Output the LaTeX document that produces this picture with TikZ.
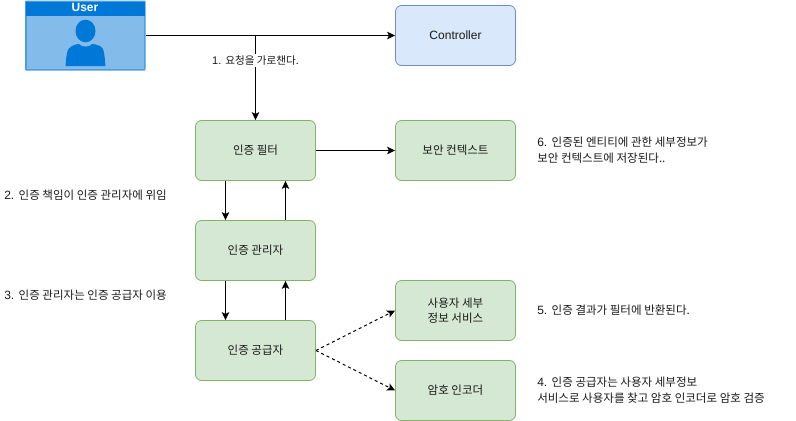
\documentclass[tikz,border=0pt]{standalone}
\usepackage{fontspec}
\setmainfont{Liberation Sans}
\newfontfamily\kr{Noto Sans CJK KR}[Scale=0.96]
\usetikzlibrary{arrows.meta}
\definecolor{gfill}{HTML}{D5E8D4}
\definecolor{gline}{HTML}{82B366}
\definecolor{bfill}{HTML}{DAE8FC}
\definecolor{bline}{HTML}{6C8EBF}
\definecolor{ublue}{HTML}{0078D7}
\definecolor{ulight}{HTML}{83BBEB}
\definecolor{uedge}{HTML}{4A9FE3}
\tikzset{
  x=0.75pt,y=-0.75pt,
  every node/.style={font=\fontsize{9pt}{11.6pt}\selectfont,text=black!90,inner sep=0pt,align=center},
  greenbox/.style={draw=gline,fill=gfill,rounded corners=6pt*0.75,minimum width=90pt,minimum height=45pt,line width=0.6pt},
  bluebox/.style={draw=bline,fill=bfill,rounded corners=6pt*0.75,minimum width=90pt,minimum height=45pt,line width=0.6pt},
  conn/.style={draw=black,line width=0.75pt,-{Stealth[length=8pt*0.75,width=7.5pt*0.75,inset=1.8pt*0.75]}},
  dashconn/.style={conn,dash pattern=on 2.25pt off 2.25pt},
  note/.style={anchor=west,align=left},
  smallnote/.style={font=\fontsize{8.25pt}{11pt}\selectfont},
}
\begin{document}
\begin{tikzpicture}
\useasboundingbox (0,0) rectangle (796,421);
% User
\fill[uedge,rounded corners=0.7pt] (25,0.5) rectangle (145.5,70.5);
\fill[ulight] (26.5,16) rectangle (144,68.5);
\fill[ublue] (26,1.5) rectangle (144.5,16);
\node[font=\fontsize{9pt}{11pt}\selectfont\bfseries,text=white] (usertitle) at (85,7.5) {User};
\fill[ublue] (85.5,31) circle[x radius=10,y radius=11.3];
\fill[ublue] (65.5,66) .. controls (66.5,56) and (66.5,48) .. (72,46) .. controls (75,44.5) and (77,44) .. (79,44)
  .. controls (81,47.5) and (90,47.5) .. (92,44) .. controls (94,44) and (97,44.5) .. (100,46)
  .. controls (104.5,48) and (104.5,56) .. (105.5,66) -- cycle;
\coordinate (user) at (145.5,35.5);
\node[bluebox] (controller) at (455.5,35.5) {Controller};
\node[greenbox] (filter) at (255.5,150.5) {\kr 인증 필터};
\node[greenbox] (context) at (455.5,150.5) {\kr 보안 컨텍스트};
\node[greenbox] (manager) at (255.5,250.5) {\kr 인증 관리자};
\node[greenbox] (provider) at (255.5,350.5) {\kr 인증 공급자};
\node[greenbox] (service) at (455.5,310.5) {\kr 사용자 세부\\\kr 정보 서비스};
\node[greenbox] (encoder) at (455.5,390.5) {\kr 암호 인코더};
\coordinate (branch) at (255.5,35.5);
\draw[conn] (user) -- (controller.west);
\draw[conn] (branch) -- (filter.north);
\node[smallnote,fill=white,inner ysep=1pt,inner xsep=1pt] (lab1) at (255.5,60.5) {1. {\kr 요청을 가로챈다.}};
\draw[conn] (filter.east) -- (context.west);
\draw[conn] ([xshift=-22.5pt]filter.south) -- ([xshift=-22.5pt]manager.north);
\draw[conn] ([xshift=22.5pt]manager.north) -- ([xshift=22.5pt]filter.south);
\draw[conn] ([xshift=-22.5pt]manager.south) -- ([xshift=-22.5pt]provider.north);
\draw[conn] ([xshift=22.5pt]provider.north) -- ([xshift=22.5pt]manager.south);
\draw[dashconn] (provider.east) -- (service.west);
\draw[dashconn] (provider.east) -- (encoder.west);
\node[note] (n2) at (4,195) {2. {\kr 인증 책임이 인증 관리자에 위임}};
\node[note] (n3) at (4,295) {3. {\kr 인증 관리자는 인증 공급자 이용}};
\node[note] (n6) at (537,150) {6. {\kr 인증된 엔티티에 관한 세부정보가}\\{\kr 보안 컨텍스트에 저장된다..}};
\node[note] (n5) at (537,310) {5. {\kr 인증 결과가 필터에 반환된다.}};
\node[note] (n4) at (537,390) {4. {\kr 인증 공급자는 사용자 세부정보}\\{\kr 서비스로 사용자를 찾고 암호 인코더로 암호 검증}};
\end{tikzpicture}
\end{document}
